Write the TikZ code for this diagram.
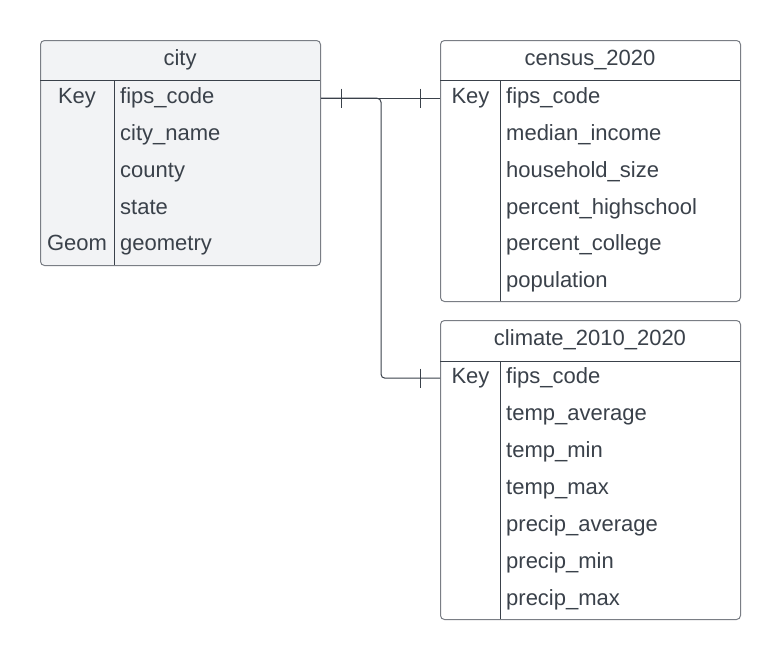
\documentclass[tikz,border=0pt]{standalone}
\usepackage{fontspec}
\setmainfont{Liberation Sans}
\usepackage{xcolor}
\usepackage{tikz}
\usetikzlibrary{positioning}

\definecolor{ink}{HTML}{3A414A}
\definecolor{rim}{HTML}{7A7E85}
\definecolor{cityfill}{HTML}{F2F3F5}

\tikzset{
	table/.style={draw=rim, line width=1pt, rounded corners=4pt, anchor=north west, inner sep=0pt},
	rule/.style={draw=ink, line width=1pt},
	field/.style={anchor=west, inner sep=0pt, text height=15.5pt, text depth=0pt, text=ink, font=\fontsize{22}{26}\selectfont},
	keyname/.style={field, anchor=center},
	title/.style={field, anchor=center},
	link/.style={draw=ink, line width=1pt},
}

\begin{document}
\begin{tikzpicture}[x=1pt, y=-1pt]
	\useasboundingbox[fill=white] (0,0) rectangle (780,659);
	\node[table, fill=cityfill, minimum width=280pt, minimum height=225pt] (city) at (40,40) {};
	\node[table, fill=white, minimum width=300pt, minimum height=261pt] (census) at (440,40) {};
	\node[table, fill=white, minimum width=300pt, minimum height=299pt] (climate) at (440,320) {};
	\draw[rule] (40,80) -- (320,80);
	\draw[rule] (114,80) -- (114,265);
	\draw[rule] (440,80) -- (740,80);
	\draw[rule] (500,80) -- (500,301);
	\draw[rule] (440,361) -- (740,361);
	\draw[rule] (500,361) -- (500,619);
	\node[title] (city-title) at (180,57.5) {city};
	\node[title] (census-title) at (590,57.5) {census\_2020};
	\node[title] (climate-title) at (590,337.5) {climate\_2010\_2020};
	\node[keyname] (city-key) at (77,96) {Key};
	\node[keyname] (city-geom) at (77,243.2) {Geom};
	\node[keyname] (census-key) at (470.5,96) {Key};
	\node[keyname] (climate-key) at (470.5,376) {Key};
	\foreach \f [count=\i from 0] in {fips\_code, city\_name, county, state, geometry}
		\node[field] (city-\i) at (120,96+36.8*\i) {\f};
	\foreach \f [count=\i from 0] in {fips\_code, median\_income, household\_size, percent\_highschool, percent\_college, population}
		\node[field] (census-\i) at (506,96+36.8*\i) {\f};
	\foreach \f [count=\i from 0] in {fips\_code, temp\_average, temp\_min, temp\_max, precip\_average, precip\_min, precip\_max}
		\node[field] (climate-\i) at (506,376+36.9*\i) {\f};
	\coordinate (cityport) at ([yshift=-2.2pt]city.east |- city-0);
	\coordinate (censusport) at ([yshift=-2.2pt]census.west |- census-0);
	\coordinate (climateport) at ([yshift=-2.2pt]climate.west |- climate-0);
	\coordinate (fork) at ([xshift=60pt]cityport);
	\draw[link] (cityport) -- (censusport);
	\draw[link, rounded corners=4pt] (cityport) -- (fork) |- (climateport);
	\draw[link] ([xshift=20pt]cityport) ++(0,-9.5) -- ++(0,19);
	\draw[link] ([xshift=-20pt]censusport) ++(0,-9.5) -- ++(0,19);
	\draw[link] ([xshift=-20pt]climateport) ++(0,-9.5) -- ++(0,19);
\end{tikzpicture}
\end{document}
